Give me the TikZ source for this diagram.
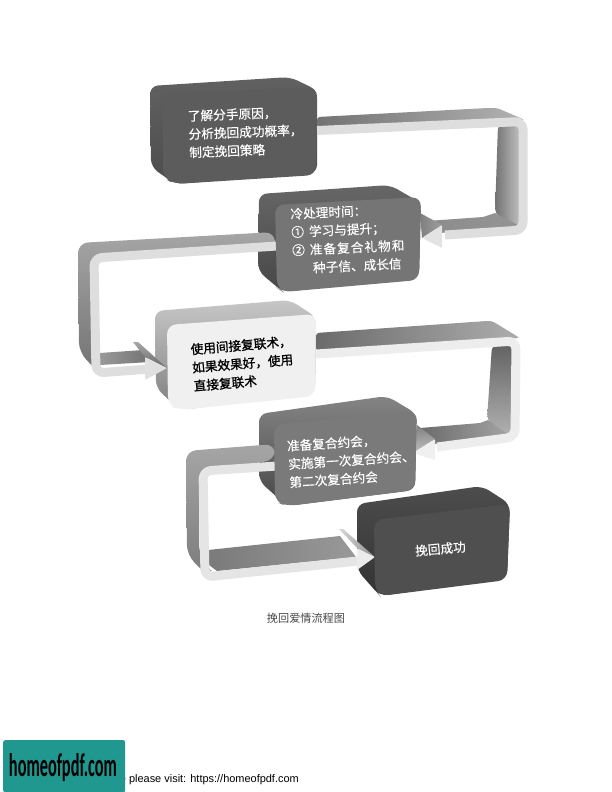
\documentclass[tikz,border=0pt]{standalone}
\usepackage{fontspec}
\usepackage{graphicx}
\setmainfont{Noto Sans CJK SC}[FakeBold=0.25]
\newfontfamily\capfont{Noto Sans CJK SC}
\newfontfamily\boldlabel{Noto Sans CJK SC}[FakeBold=1.1]
\newfontfamily\footfont{Liberation Sans}
\newfontfamily\logofont{Carlito}
\definecolor{teal1}{HTML}{20978F}
\tikzset{
  boxside/.style={rounded corners=8bp},
  boxfront/.style={rounded corners=9bp},
  edge/.style={line width=9bp,rounded corners=8bp,line join=round},
  lbl/.style={anchor=north west,inner sep=0pt,align=left,font=\fontsize{12.7}{18.3}\selectfont},
}
\begin{document}
\begin{tikzpicture}[x=1bp,y=-1bp]
\useasboundingbox (0,0) rectangle (612,792);
\fill[white] (0,0) rectangle (612,792);

% box bodies
\shade[boxside,top color=black!62,bottom color=black!70] (150,86) -- (290,77) -- (317,90) -- (317,173) -- (175,184) -- (151,167) -- cycle;
\shade[boxside,top color=black!60,bottom color=black!72] (259,194) -- (390,185) -- (421,203) -- (419,277) -- (283,292) -- (258,271) -- cycle;
\shade[boxside,top color=black!22,bottom color=black!50] (155,311) -- (290,300) -- (316,317) -- (315,393) -- (180,410) -- (156,388) -- cycle;
\shade[boxside,top color=black!48,bottom color=black!72] (259,414) -- (387,396) -- (417,414) -- (415,490) -- (287,506) -- (259,481) -- cycle;
\shade[boxside,top color=black!70,bottom color=black!80] (357,504) -- (482,486) -- (510,504) -- (507,578) -- (380,596) -- (357,570) -- cycle;

% named connector ends
\coordinate (r1a) at (317,130.5); \coordinate (r1b) at (445,235);
\coordinate (r2a) at (277,246);   \coordinate (r2b) at (150,369);
\coordinate (r3a) at (316,354);   \coordinate (r3b) at (437,447);
\coordinate (r4a) at (277,466);   \coordinate (r4b) at (358,561);

% ribbon 1
\shade[left color=black!55,right color=black!30,rounded corners=3bp] (317,117) -- (488,108) -- (497,108) -- (525,120) -- (317,128) -- cycle;
\shade[rounded corners=5bp,left color=black!55,right color=black!25] (498,124) -- (520,122) -- (520,228) -- (495,214) -- cycle;
\shade[left color=black!45,right color=black!42] (427,221) -- (483,217) -- (495,213) -- (520,226) -- (440,233) -- cycle;
\draw[edge,draw=black!13] (r1a) -- (523,121.5) -- (523,230) -- (r1b);
\shade[left color=black!50,right color=black!38] (420,213) -- (442,225) -- (422,238) -- cycle;
\fill[black!11,rounded corners=1bp] (422,238) -- (442,225) -- (442,248) -- cycle;

% ribbon 2
\shade[top color=black!35,bottom color=black!55,rounded corners=10bp] (275,232) -- (78,243) -- (79,352) -- (100,374) -- (100,358) -- (91,350) -- (91,258) -- (275,250) -- cycle;
\shade[left color=black!40,right color=black!55] (100,353) -- (143,350) -- (150,362) -- (100,365) -- cycle;
\draw[edge,draw=black!13] (r2a) -- (94,258) -- (96,373) -- (r2b);
\shade[top color=black!35,bottom color=black!58] (133,342) -- (138,342) -- (167,368) -- (145,357) -- cycle;
\fill[black!12,rounded corners=1bp] (167,368) -- (145,357) -- (145,380) -- cycle;

% ribbon 3
\shade[left color=black!58,right color=black!32,rounded corners=3bp] (316,333) -- (487,321) -- (492,321) -- (520,338) -- (316,351) -- cycle;
\shade[top color=black!62,bottom color=black!30,rounded corners=5bp] (492,345) -- (513,343) -- (512,437) -- (487,420) -- cycle;
\shade[left color=black!58,right color=black!35] (420,428) -- (480,423) -- (488,420) -- (512,437) -- (435,444) -- cycle;
\draw[edge,draw=black!7] (r3a) -- (516,341) -- (515,437) -- (r3b);
\shade[top color=black!50,bottom color=black!25] (417,425) -- (435,439) -- (413,453) -- cycle;
\fill[black!6,rounded corners=1bp] (413,453) -- (435,439) -- (435,460) -- cycle;

% ribbon 4
\shade[top color=black!35,bottom color=black!52,rounded corners=10bp] (275,444) -- (186,451) -- (187,555) -- (212,580) -- (210,565) -- (199,555) -- (199,472) -- (275,460) -- cycle;
\shade[left color=black!52,right color=black!40] (208,550) -- (340,536) -- (356,557) -- (217,571) -- (209,565) -- cycle;
\draw[edge,draw=black!10] (r4a) -- (203,471) -- (205,577) -- (r4b);
\shade[left color=black!15,right color=black!45] (339,529) -- (343,529) -- (375,557) -- (357,548) -- cycle;
\fill[black!8,rounded corners=1bp] (375,557) -- (357,548) -- (357,570) -- cycle;

% box fronts
\fill[boxfront,black!64] (163,93) -- (317,87) -- (316,175) -- (175,184) -- (163,178) -- cycle;
\fill[boxfront,black!54] (275,205) -- (421,197) -- (419,280) -- (283,292) -- (277,288) -- cycle;
\fill[boxfront,black!6] (167,325) -- (316,314) -- (315,396) -- (180,410) -- (168,405) -- cycle;
\fill[boxfront,black!52] (274,425) -- (417,411) -- (415,490) -- (287,506) -- (275,502) -- cycle;
\fill[boxfront,black!69] (374,520) -- (510,504) -- (507,580) -- (380,596) -- (375,590) -- cycle;

% texts
\node[lbl,text=white,rotate=2.2] (t1) at (187.5,110) {了解分手原因，\\分析挽回成功概率，\\制定挽回策略};
\node[lbl,text=white,rotate=2.7] (t2) at (290,208) {冷处理时间：\\①\hspace{5bp}学习与提升；\\②\hspace{5bp}{\addfontfeature{LetterSpace=8}准备复合礼物和}\\\hspace*{20bp}种子信、成长信};
\node[lbl,text=black,rotate=4.8,font=\fontsize{12.7}{18.4}\boldlabel] (t3) at (190,343.5) {使用间接复联术，\\如果效果好，使用\\直接复联术};
\node[lbl,text=white,rotate=3.7] (t4) at (286.5,440) {准备复合约会，\\实施第一次复合约会、\\第二次复合约会};
\node[lbl,text=white,rotate=5] (t5) at (414.5,545) {挽回成功};

% caption and footer
\node[inner sep=0pt,text=black!72,font=\fontsize{11.2}{13}\capfont] (cap) at (306,618.5) {挽回爱情流程图};
\node[anchor=base east,inner sep=0pt,font=\fontsize{11}{13}\footfont] (foot) at (299,782) {e please visit: https://homeofpdf.com};
\node[anchor=north west,inner sep=0pt,minimum width=122bp,minimum height=52bp,fill=teal1,rounded corners=2bp] (logo) at (3,740) {};
\node[inner sep=0pt] (logotext) at (63,768) {\resizebox{108bp}{23bp}{\logofont\bfseries homeofpdf.com}};
\end{tikzpicture}
\end{document}
